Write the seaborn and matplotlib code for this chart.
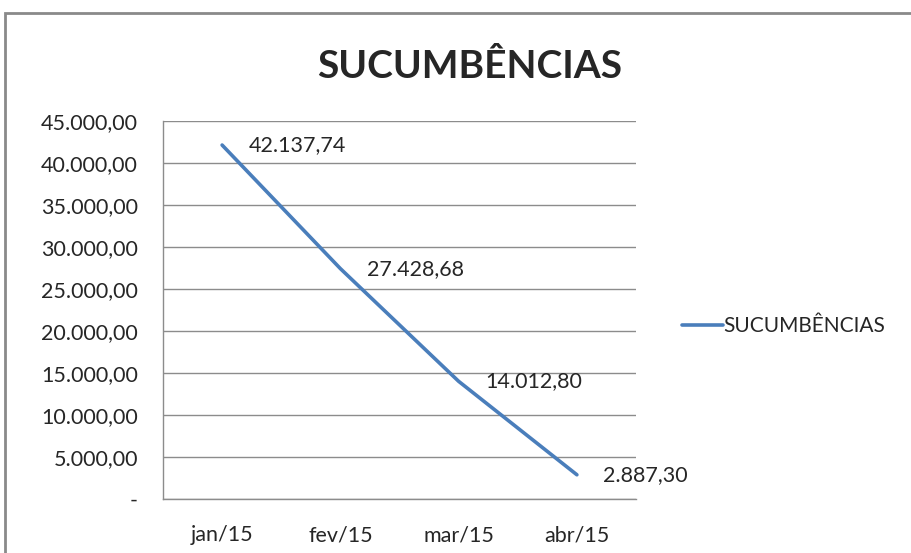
import numpy as np
import pandas as pd
import matplotlib.pyplot as plt
import seaborn as sns
from matplotlib.patches import Rectangle

sns.set_theme(style="white")
plt.rcParams["font.family"] = ["Lato", "DejaVu Sans"]

# data
months = ["jan/15", "fev/15", "mar/15", "abr/15"]
values = [42137.74, 27428.68, 14012.80, 2887.30]
yticks = [0, 5000, 10000, 15000, 20000, 25000, 30000, 35000, 40000, 45000]
series_name = "SUCUMBÊNCIAS"


def br(v):
    if v == 0:
        return "-"
    s = f"{v:,.2f}"
    return s.replace(",", "X").replace(".", ",").replace("X", ".")


df = pd.DataFrame({"mes": months, "valor": values})
df["pos"] = np.arange(len(df))

fig = plt.figure(figsize=(9.12, 5.53), dpi=100)
ax = fig.add_axes([0.1787, 0.0976, 0.5187, 0.6836])

sns.lineplot(data=df, x="pos", y="valor", ax=ax, color="#4A7EBB", linewidth=2.6,
             label=series_name, legend=False)

for _, r in df.iterrows():
    ax.annotate(br(r["valor"]), (r["pos"], r["valor"]), xytext=(19, 0),
                textcoords="offset points", va="center", ha="left", fontsize=15.5)

ax.set_xlim(-0.5, 3.5)
ax.set_ylim(0, 45000)
ax.set_xticks(df["pos"])
ax.set_xticklabels(months, fontsize=15.5)
ax.set_yticks(yticks)
ax.set_yticklabels([br(v) for v in yticks], fontsize=15.5)
ax.tick_params(axis="x", pad=19, length=0)
ax.tick_params(axis="y", pad=18, length=0)
ax.set_xlabel("")
ax.set_ylabel("")
ax.grid(axis="y", color="#8c8c8c", linewidth=1)
ax.set_axisbelow(True)
for s in ["top", "right"]:
    ax.spines[s].set_visible(False)
for s in ["left", "bottom"]:
    ax.spines[s].set_color("#8c8c8c")
    ax.spines[s].set_linewidth(1)

fig.text(0.515, 0.88, series_name, ha="center", va="center", fontsize=28, fontweight="bold")

handles, labels = ax.get_legend_handles_labels()
fig.legend(handles, labels, loc="center left", bbox_to_anchor=(0.727, 0.41), frameon=False,
           fontsize=15, handlelength=2.0, handletextpad=0.0)

fig.patches.append(Rectangle((5 / 912, -0.1), 1.2, 1 - 13 / 553 + 0.1, transform=fig.transFigure,
                             fill=False, edgecolor="#8a8a8a", linewidth=2))

fig.savefig("out.png", dpi=100)
